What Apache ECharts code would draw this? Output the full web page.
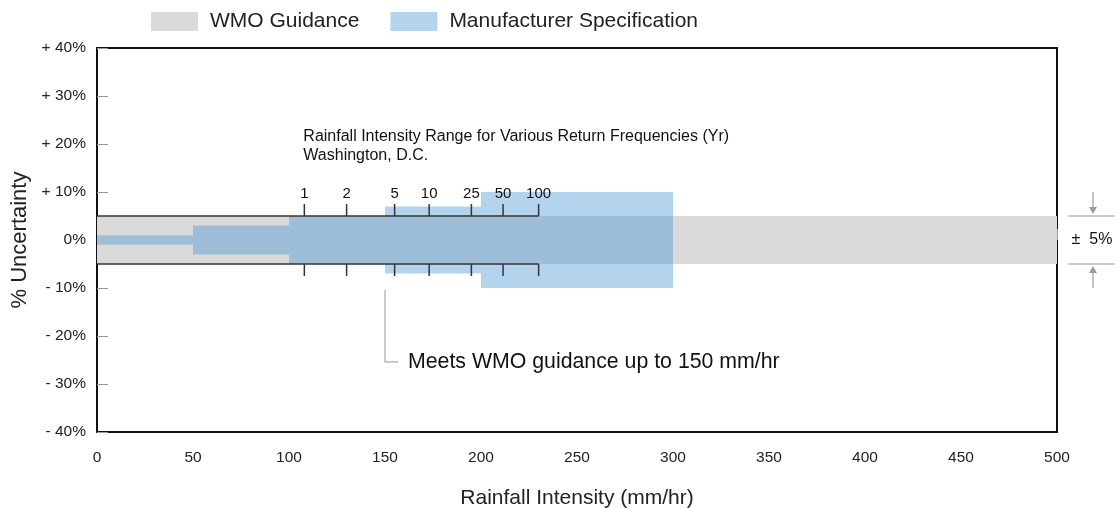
<!DOCTYPE html>
<html>
<head>
<meta charset="utf-8">
<script src="https://cdn.jsdelivr.net/npm/echarts@6/dist/echarts.min.js"></script>
<style>html,body{margin:0;padding:0;background:#fff;}#c{width:1115px;height:508px;}</style>
</head>
<body>
<div id="c"></div>
<script>
// ---- data ----
const wmoBand = [[0, 500, 5]];                 // [x0, x1, ±%]
const specSteps = [[0, 50, 1], [50, 100, 3], [100, 150, 5], [150, 200, 7], [200, 300, 10]];
const returnLabels = ['1', '2', '5', '10', '25', '50', '100'];
const returnIntensity = [108, 130, 155, 173, 195, 211.5, 230];
const yTicks = [-40, -30, -20, -10, 0, 10, 20, 30, 40];
const xTicks = [0, 50, 100, 150, 200, 250, 300, 350, 400, 450, 500];
const wmoLimit = 5;
const calloutX = 150;

const FONT = '"Liberation Sans", Arial, sans-serif';
const GREY = '#dadada';
const BLUE = 'rgba(68,148,212,0.4)';

function rectRender(color) {
  return function (params, api) {
    const x0 = api.value(0), x1 = api.value(1), h = api.value(2);
    const p0 = api.coord([x0, h]), p1 = api.coord([x1, -h]);
    return { type: 'rect', shape: { x: p0[0], y: p0[1], width: p1[0] - p0[0], height: p1[1] - p0[1] },
      style: { fill: color } };
  };
}

const chart = echarts.init(document.getElementById('c'), null, { renderer: 'canvas' });
const option = {
  animation: false,
  textStyle: { fontFamily: FONT },
  legend: {
    left: 146, top: 6, itemWidth: 47, itemHeight: 19, itemGap: 31, icon: 'rect',
    textStyle: { fontSize: 21, color: '#222', fontFamily: FONT, padding: [0, 0, 0, 7] },
    data: ['WMO Guidance', 'Manufacturer Specification']
  },
  grid: { left: 97, right: 58, top: 48, bottom: 76, containLabel: false, outerBoundsMode: 'none',
    show: true, borderColor: '#111', borderWidth: 2, backgroundColor: 'transparent' },
  xAxis: {
    type: 'value', min: 0, max: 500, interval: 50,
    name: 'Rainfall Intensity (mm/hr)', nameLocation: 'middle', nameGap: 56,
    nameTextStyle: { fontSize: 21, color: '#222', fontFamily: FONT },
    axisLine: { show: false },
    axisTick: { show: true, inside: true, length: 11, lineStyle: { color: '#999', width: 1 } },
    axisLabel: { fontSize: 15.5, color: '#222', margin: 18, fontFamily: FONT },
    splitLine: { show: false }
  },
  yAxis: {
    type: 'value', min: -40, max: 40, interval: 10,
    name: '% Uncertainty', nameLocation: 'middle', nameGap: 65,
    nameTextStyle: { fontSize: 22, color: '#222', fontFamily: FONT },
    axisLine: { show: false },
    axisTick: { show: true, inside: true, length: 11, lineStyle: { color: '#999', width: 1 } },
    axisLabel: {
      fontSize: 15.5, color: '#222', margin: 11, fontFamily: FONT,
      formatter: v => v > 0 ? '+ ' + v + '%' : (v < 0 ? '- ' + Math.abs(v) + '%' : '0%')
    },
    splitLine: { show: false }
  },
  series: [
    { name: 'WMO Guidance', type: 'custom', itemStyle: { color: GREY }, renderItem: rectRender(GREY), data: wmoBand, z: 1 },
    { name: 'Manufacturer Specification', type: 'custom', itemStyle: { color: BLUE }, renderItem: rectRender(BLUE), data: specSteps, z: 2 },
    // return frequency bracket
    {
      type: 'custom', z: 5, silent: true, clip: false,
      data: returnIntensity.map((x, i) => [x, i]),
      renderItem: function (params, api) {
        const x = api.value(0), i = api.value(1);
        const children = [];
        const top0 = api.coord([x, wmoLimit]), top1 = api.coord([x, wmoLimit + 2.5]);
        const bot0 = api.coord([x, -wmoLimit]), bot1 = api.coord([x, -wmoLimit - 2.5]);
        children.push({ type: 'line', shape: { x1: top0[0], y1: top0[1], x2: top1[0], y2: top1[1] }, style: { stroke: '#333', lineWidth: 1.5 } });
        children.push({ type: 'line', shape: { x1: bot0[0], y1: bot0[1], x2: bot1[0], y2: bot1[1] }, style: { stroke: '#333', lineWidth: 1.5 } });
        children.push({ type: 'text', x: top1[0], y: top1[1] - 3, style: { text: returnLabels[i], fontSize: 15, fill: '#111', fontFamily: FONT, align: 'center', verticalAlign: 'bottom' } });
        if (i === 0) {
          const xe = returnIntensity[returnIntensity.length - 1];
          const a = api.coord([0, wmoLimit]), b = api.coord([xe, wmoLimit]);
          const c = api.coord([0, -wmoLimit]), d = api.coord([xe, -wmoLimit]);
          children.push({ type: 'line', shape: { x1: a[0], y1: a[1], x2: b[0], y2: b[1] }, style: { stroke: '#333', lineWidth: 1.5 } });
          children.push({ type: 'line', shape: { x1: c[0], y1: c[1], x2: d[0], y2: d[1] }, style: { stroke: '#333', lineWidth: 1.5 } });
          const t = api.coord([x, 19.6]);
          children.push({ type: 'text', x: t[0] - 1, y: t[1], style: { text: 'Rainfall Intensity Range for Various Return Frequencies (Yr)\nWashington, D.C.', fontSize: 16, lineHeight: 19, fill: '#111', fontFamily: FONT, align: 'left', verticalAlign: 'middle' } });
        }
        return { type: 'group', children: children };
      }
    },
    // callout
    {
      type: 'custom', z: 5, silent: true, clip: false,
      data: [[calloutX]],
      renderItem: function (params, api) {
        const x = api.value(0);
        const p0 = api.coord([x, -10.4]), p1 = api.coord([x, -25.4]);
        return { type: 'group', children: [
          { type: 'polyline', shape: { points: [[p0[0], p0[1]], [p1[0], p1[1]], [p1[0] + 13, p1[1]]] }, style: { stroke: '#aaa', lineWidth: 1.2, fill: null } },
          { type: 'text', x: p1[0] + 23, y: p1[1], style: { text: 'Meets WMO guidance up to 150 mm/hr', fontSize: 21.3, fill: '#111', fontFamily: FONT, align: 'left', verticalAlign: 'middle' } }
        ] };
      }
    },
    // right side ±5% marker
    {
      type: 'custom', z: 5, silent: true, clip: false,
      data: [[500]],
      renderItem: function (params, api) {
        const x = api.value(0);
        const pt = api.coord([x, wmoLimit]), pb = api.coord([x, -wmoLimit]), pm = api.coord([x, 0]);
        const cx = pt[0] + 36;
        const col = '#9a9a9a';
        return { type: 'group', children: [
          { type: 'line', shape: { x1: pt[0] + 11, y1: pt[1], x2: pt[0] + 60, y2: pt[1] }, style: { stroke: col, lineWidth: 1.2 } },
          { type: 'line', shape: { x1: pb[0] + 11, y1: pb[1], x2: pb[0] + 60, y2: pb[1] }, style: { stroke: col, lineWidth: 1.2 } },
          { type: 'line', shape: { x1: cx, y1: pt[1] - 24, x2: cx, y2: pt[1] - 6 }, style: { stroke: col, lineWidth: 1.2 } },
          { type: 'polygon', shape: { points: [[cx - 4, pt[1] - 9], [cx + 4, pt[1] - 9], [cx, pt[1] - 2]] }, style: { fill: col } },
          { type: 'line', shape: { x1: cx, y1: pb[1] + 24, x2: cx, y2: pb[1] + 6 }, style: { stroke: col, lineWidth: 1.2 } },
          { type: 'polygon', shape: { points: [[cx - 4, pb[1] + 9], [cx + 4, pb[1] + 9], [cx, pb[1] + 2]] }, style: { fill: col } },
          { type: 'text', x: pm[0] + 35, y: pm[1], style: { text: '±  5%', fontSize: 16, fill: '#111', fontFamily: FONT, align: 'center', verticalAlign: 'middle' } }
        ] };
      }
    }
  ]
};
chart.setOption(option);
</script>
</body>
</html>
